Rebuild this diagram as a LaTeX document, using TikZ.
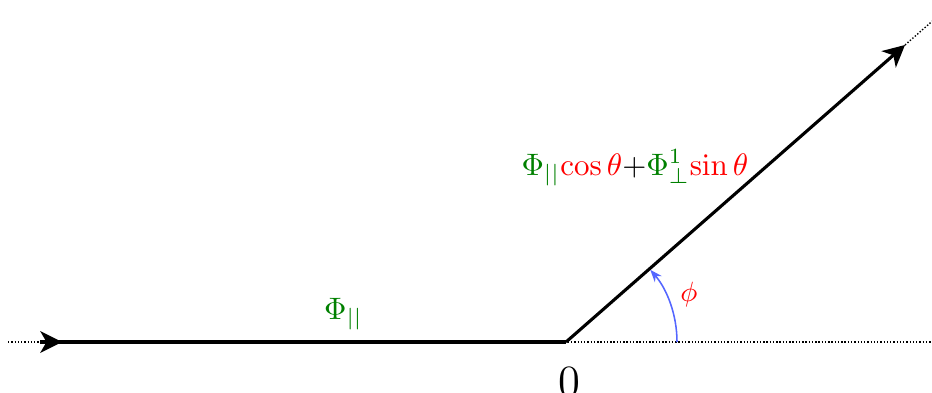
\documentclass[tikz,border=0pt]{standalone}
\usetikzlibrary{arrows.meta,calc}
\definecolor{dgreen}{rgb}{0,0.5,0}
\definecolor{arcblue}{rgb}{0.33,0.4,1}
\tikzset{
  mainline/.style={line width=1pt},
  bigarrow/.style={-{Stealth[length=7pt,width=7pt,inset=2pt]}},
  dotline/.style={line width=0.45pt,dash pattern=on 0.45pt off 0.6pt},
}
\begin{document}
\begin{tikzpicture}[x=0.3226pt,y=0.3226pt]
\useasboundingbox (0,0) rectangle (932,392);
\coordinate (O) at (566,50);
\coordinate (Ls) at (8,50);
\coordinate (Re) at (932,50);
\coordinate (L) at (40,50);
\coordinate (Lt) at (62,50);
\coordinate (T) at (905,347);
\coordinate (E) at ($(O)!1.08!(T)$);
\coordinate (A) at (677,50);
% dotted lines
\draw[dotline] (Ls) -- (Re);
\draw[dotline] (T) -- (E);
% incoming ray
\draw[mainline] (L) -- (O);
\draw[mainline,bigarrow] (L) -- (Lt);
% outgoing ray
\draw[mainline,bigarrow] (O) -- (T);
% angle arc
\draw[arcblue,line width=0.5pt,-{Stealth[length=4pt,width=3pt]}] (A) arc[start angle=0,end angle=40.6,radius=35.8pt];
% labels
\node[anchor=base,text=dgreen,inner sep=0pt] (lp) at (343.5,73) {$\Phi_{||}$};
\node[anchor=base,inner sep=0pt] (lf) at (635,217) {${\color{dgreen}\Phi_{||}}{\color{red}\cos\theta}{+}{\color{dgreen}\Phi^1_\perp}{\color{red}\sin\theta}$};
\node[text=red,inner sep=0pt,font=\small] (lphi) at (689,97) {$\phi$};
\node[anchor=base,inner sep=0pt,font=\Large] (l0) at (569,-4) {0};
\end{tikzpicture}
\end{document}
